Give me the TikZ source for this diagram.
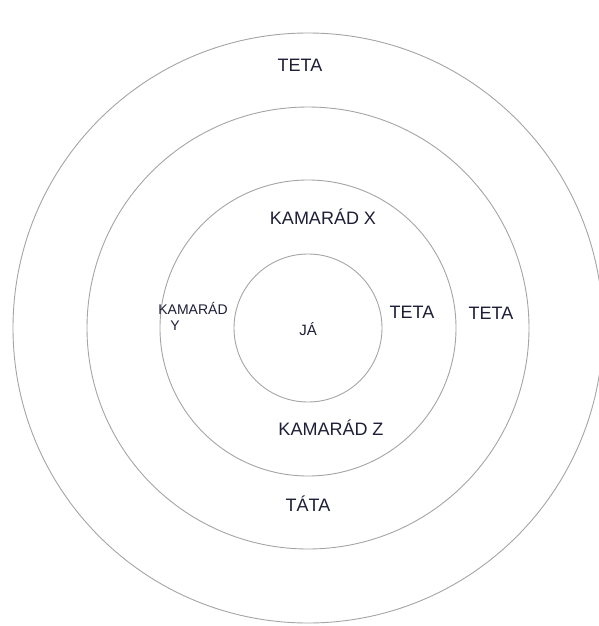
\documentclass[tikz,border=0pt]{standalone}
\usepackage{fontspec}
\setmainfont{Liberation Sans}
\definecolor{ink}{RGB}{30,30,55}
\definecolor{ring}{RGB}{165,165,165}
\begin{document}
\begin{tikzpicture}[x=1pt,y=-1pt,
  ringstyle/.style={circle,draw=ring,line width=0.9pt,inner sep=0pt},
  lbl/.style={text=ink,inner sep=0pt,font=\fontsize{18}{20}\selectfont},
  lblsmall/.style={text=ink,inner sep=0pt,align=left,font=\fontsize{14}{18}\selectfont}]
\useasboundingbox (0,0) rectangle (599,626);
\clip (0,0) rectangle (599,626);
\fill[white] (0,0) rectangle (599,626);
\node[ringstyle,minimum size=590pt] (r4) at (308,328) {};
\node[ringstyle,minimum size=442pt] (r3) at (308,328) {};
\node[ringstyle,minimum size=296pt] (r2) at (308,328) {};
\node[ringstyle,minimum size=148pt] (r1) at (308,328) {};
\node[lbl] (tetatop) at (300,65) {TETA};
\node[lbl] (kx) at (323,217) {KAMARÁD X};
\node[lblsmall] (ky) at (193,316) {KAMARÁD\\[-2pt]\hspace*{12pt}Y};
\node[lbl,font=\fontsize{15}{18}\selectfont] (ja) at (308,329) {JÁ};
\node[lbl] (tetain) at (412,312) {TETA};
\node[lbl] (tetaout) at (491,313) {TETA};
\node[lbl] (kz) at (331,428) {KAMARÁD Z};
\node[lbl] (tata) at (308,504) {TÁTA};
\end{tikzpicture}
\end{document}
